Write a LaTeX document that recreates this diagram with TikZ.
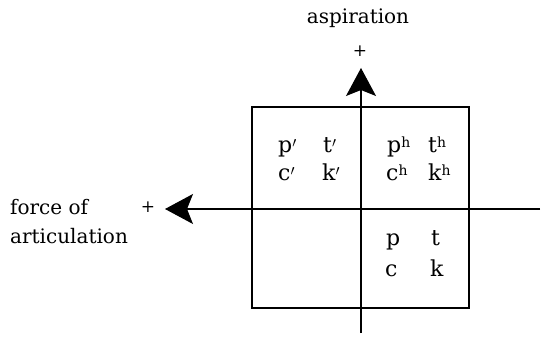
\documentclass[tikz,border=0pt]{standalone}
\usepackage{fontspec}
\setmainfont{DejaVu Serif}
\usepackage{tikz}
\usetikzlibrary{arrows.meta}
\tikzset{
  axisline/.style={draw=black,line width=1.1pt},
  axisarrow/.style={axisline,-{Stealth[length=28pt,width=30pt,inset=6pt]}},
  frame/.style={draw=black,line width=1.1pt},
  axislabel/.style={font=\fontsize{20}{24}\selectfont,inner sep=0pt},
  plussign/.style={font=\fontsize{17}{20}\selectfont,inner sep=0pt},
  stop/.style={font=\fontsize{22}{26}\selectfont,inner sep=0pt,anchor=base west,
    text height=14pt,text depth=4pt}
}
\newcommand{\ej}{\raisebox{-0.15ex}{$'$}}
\newcommand{\asp}{\raisebox{0.45ex}{\fontsize{14}{16}\selectfont h}}

\begin{document}
\begin{tikzpicture}[x=1pt,y=1pt]
  \useasboundingbox (0,0) rectangle (545,337);
  % quadrant frame
  \coordinate (boxsw) at (252,29);
  \coordinate (boxne) at (469,230);
  \draw[frame] (boxsw) rectangle (boxne);
  % axes
  \coordinate (vbot) at (361,4);
  \coordinate (vtop) at (361,269);
  \coordinate (hright) at (540,128);
  \coordinate (hleft) at (165,128);
  \draw[axisarrow] (vbot) -- (vtop);
  \draw[axisarrow] (hright) -- (hleft);
  % axis labels
  \node[axislabel] (asplabel) at (358,319) {aspiration};
  \node[plussign] (aspplus) at (360,286) {+};
  \node[plussign] (forceplus) at (148,130) {+};
  \node[axislabel,anchor=base west] (forcelabel) at (10,122) {force of};
  \node[axislabel,anchor=base west] (artlabel) at (10,93) {articulation};
  % ejectives
  \node[stop] (pej) at (278,184) {p\ej};
  \node[stop] (tej) at (323,184) {t\ej};
  \node[stop] (cej) at (278,156) {c\ej};
  \node[stop] (kej) at (322,156) {k\ej};
  % aspirates
  \node[stop] (pasp) at (387,184) {p\asp};
  \node[stop] (tasp) at (428,184) {t\asp};
  \node[stop] (casp) at (386,156) {c\asp};
  \node[stop] (kasp) at (428,156) {k\asp};
  % plain stops
  \node[stop] (pplain) at (386,92) {p};
  \node[stop] (tplain) at (431,92) {t};
  \node[stop] (cplain) at (385,60) {c};
  \node[stop] (kplain) at (430,60) {k};
\end{tikzpicture}
\end{document}
